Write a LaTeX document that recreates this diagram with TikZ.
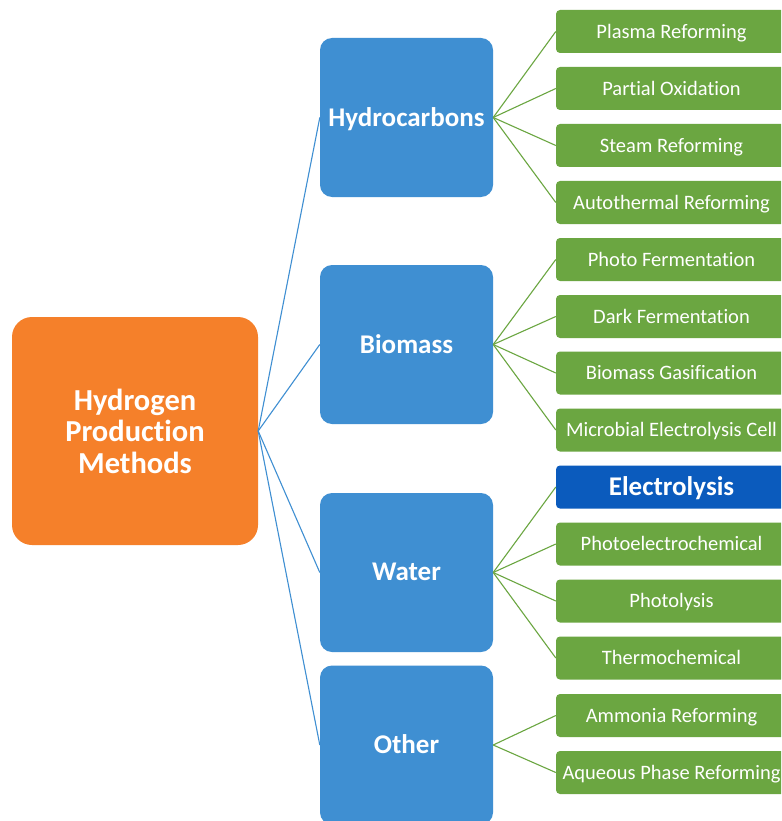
\documentclass[tikz,border=0pt]{standalone}
\usepackage{fontspec}
\setmainfont{Carlito}[Ligatures=NoCommon]
\definecolor{rootorange}{HTML}{F5802A}
\definecolor{midblue}{HTML}{3F8FD2}
\definecolor{leafgreen}{HTML}{6BA641}
\definecolor{deepblue}{HTML}{0B5BBD}
\begin{document}
\begin{tikzpicture}[x=1pt,y=-1pt,
  rootbox/.style={fill=rootorange, rounded corners=20pt, minimum width=246pt, minimum height=228pt,
    text=white, font=\fontsize{30.5}{31.5}\selectfont\bfseries, align=center, inner sep=0pt},
  midbox/.style={fill=midblue, rounded corners=12pt, minimum width=173pt, minimum height=159pt,
    text=white, font=\fontsize{27}{30}\selectfont\bfseries, inner sep=0pt, text depth=1pt},
  leafbox/.style={fill=leafgreen, rounded corners=4pt, minimum width=231pt, minimum height=43pt,
    text=white, font=\fontsize{20.5}{23}\selectfont, inner sep=0pt, text depth=1pt},
  keybox/.style={leafbox, fill=deepblue, font=\fontsize{27}{30}\selectfont\bfseries},
  bluelink/.style={draw=midblue, line width=1.1pt},
  greenlink/.style={draw=leafgreen, line width=1.1pt}]
\useasboundingbox (0,0) rectangle (781,821);
\clip (0,0) rectangle (781,821);
\fill[white] (0,0) rectangle (781,821);

% root
\node[rootbox] (root) at (135,431) {Hydrogen\\Production\\Methods};

% sources
\node[midbox] (hc) at (406.5,117.5) {Hydrocarbons};
\node[midbox] (bio) at (406.5,344.5) {Biomass};
\node[midbox] (wat) at (406.5,572.5) {Water};
\node[midbox] (oth) at (406.5,745) {Other};

% methods
\node[leafbox] (l1) at (671.5,31.5) {Plasma Reforming};
\node[leafbox] (l2) at (671.5,88.5) {Partial Oxidation};
\node[leafbox] (l3) at (671.5,145.5) {Steam Reforming};
\node[leafbox] (l4) at (671.5,202.5) {Autothermal Reforming};
\node[leafbox] (l5) at (671.5,259.5) {Photo Fermentation};
\node[leafbox] (l6) at (671.5,316.5) {Dark Fermentation};
\node[leafbox] (l7) at (671.5,373) {Biomass Gasification};
\node[leafbox] (l8) at (671.5,430) {Microbial Electrolysis Cell};
\node[keybox]  (l9) at (671.5,487) {Electrolysis};
\node[leafbox] (l10) at (671.5,544) {Photoelectrochemical};
\node[leafbox] (l11) at (671.5,601) {Photolysis};
\node[leafbox] (l12) at (671.5,658) {Thermochemical};
\node[leafbox] (l13) at (671.5,715.5) {Ammonia Reforming};
\node[leafbox] (l14) at (671.5,772.5) {Aqueous Phase Reforming};

% root to sources
\foreach \m in {hc,bio,wat,oth}
  \draw[bluelink] (root.east) -- (\m.west);

% sources to methods
\foreach \l in {l1,l2,l3,l4} \draw[greenlink] (hc.east) -- (\l.west);
\foreach \l in {l5,l6,l7,l8} \draw[greenlink] (bio.east) -- (\l.west);
\foreach \l in {l9,l10,l11,l12} \draw[greenlink] (wat.east) -- (\l.west);
\foreach \l in {l13,l14} \draw[greenlink] (oth.east) -- (\l.west);
\end{tikzpicture}
\end{document}
